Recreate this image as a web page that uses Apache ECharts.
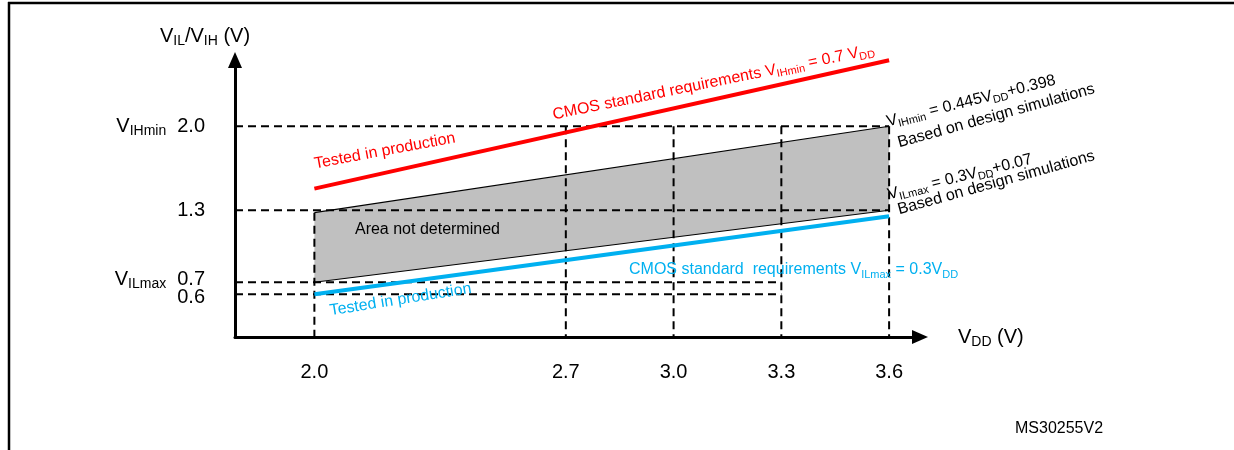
<!DOCTYPE html>
<html><head><meta charset="utf-8">
<script src="https://cdn.jsdelivr.net/npm/echarts@6/dist/echarts.min.js"></script>
<style>html,body{margin:0;padding:0;background:#fff}#c{width:1234px;height:450px}</style>
</head><body><div id="c"></div>
<script>
const FONT = '"Liberation Sans", Arial, Helvetica, sans-serif';
const RED = '#ff0000';
const BLUE = '#00b0f0';

// Axis extents (V)
const X_MIN = 1.779, X_MAX = 3.686;
const Y_MIN = 0.244, Y_MAX = 2.552;

// Tick labels
const xTicks = [2.0, 2.7, 3.0, 3.3, 3.6];
const yTicks = [2.0, 1.3, 0.7, 0.6];
const yTickSub = { '2.0': 'IHmin', '0.7': 'ILmax' };

// Area not determined (grey band)
const areaVdd = [2.0, 3.6];
const areaUpper = [1.28, 2.0];  // VIHmin = 0.445VDD + 0.398
const areaLower = [0.7, 1.3];   // VILmax = 0.3VDD + 0.07

// CMOS standard requirement lines
const redVdd = [2.0, 3.6];
const redV = [1.48, 2.55];      // VIHmin = 0.7 VDD
const blueVdd = [2.0, 3.6];
const blueV = [0.6, 1.25];      // VILmax = 0.3 VDD

// Dashed guide segments [x1, y1, x2, y2]
const guides = [
  [X_MIN, 2.0, 3.6, 2.0],
  [X_MIN, 1.3, 3.6, 1.3],
  [X_MIN, 0.7, 3.3, 0.7],
  [X_MIN, 0.6, 3.3, 0.6],
  [2.0, 1.28, 2.0, Y_MIN],
  [2.7, 2.0, 2.7, Y_MIN],
  [3.0, 2.0, 3.0, Y_MIN],
  [3.3, 2.0, 3.3, Y_MIN],
  [3.6, 2.0, 3.6, Y_MIN]
];

// Annotations: text, colour, anchor (VDD, V), angle (deg)
const notes = [
  { t: 'Tested in production', c: RED, x: 2.0, y: 1.685, a: 10.5 },
  { t: 'CMOS standard requirements V{s|IHmin} = 0.7 V{s|DD}', c: RED, x: 2.664, y: 2.093, a: 11.5 },
  { t: 'Area not determined', c: '#000', x: 2.113, y: 1.135, a: 0 },
  { t: 'Tested in production', c: BLUE, x: 2.043, y: 0.461, a: 9 },
  { t: 'CMOS standard  requirements V{s|ILmax} = 0.3V{s|DD}', c: BLUE, x: 2.876, y: 0.802, a: 0 },
  { t: 'V{s|IHmin} = 0.445V{s|DD}+0.398', c: '#000', x: 3.594, y: 2.035, a: 14 },
  { t: 'Based on design simulations', c: '#000', x: 3.625, y: 1.860, a: 15.5 },
  { t: 'V{s|ILmax} = 0.3V{s|DD}+0.07', c: '#000', x: 3.597, y: 1.427, a: 14 },
  { t: 'Based on design simulations', c: '#000', x: 3.625, y: 1.302, a: 15.5 }
];

const base = { color: '#000', fontFamily: FONT };
const axisRich = {
  v: Object.assign({ fontSize: 20, lineHeight: 24 }, base),
  s: Object.assign({ fontSize: 14, lineHeight: 14, verticalAlign: 'bottom' }, base),
  n: Object.assign({ fontSize: 20, lineHeight: 24, padding: [0, 0, 0, 11] }, base),
  upv: Object.assign({ fontSize: 20, lineHeight: 24, padding: [0, 0, 6, 0] }, base),
  ups: Object.assign({ fontSize: 14, lineHeight: 14, verticalAlign: 'bottom', padding: [0, 0, 3, 0] }, base),
  upn: Object.assign({ fontSize: 20, lineHeight: 24, padding: [0, 0, 6, 11] }, base),
  dn: Object.assign({ fontSize: 20, lineHeight: 24, padding: [6, 0, 0, 0] }, base)
};

function yLabel(v) {
  const k = v.toFixed(1); const s = yTickSub[k];
  if (k === '0.7') return '{upv|V}{ups|' + s + '}{upn|' + k + '}';
  if (k === '0.6') return '{dn|' + k + '}';
  return s ? '{v|V}{s|' + s + '}{n|' + k + '}' : '{v|' + k + '}';
}

const axisLineStyle = { show: true, onZero: false, symbol: ['none', 'triangle'], symbolSize: [14, 16],
  lineStyle: { color: '#000', width: 3 } };

const chart = echarts.init(document.getElementById('c'), null, { renderer: 'canvas' });
chart.setOption({
  animation: false,
  backgroundColor: '#fff',
  grid: { left: 235, top: 60, width: 685, height: 277, containLabel: false },
  xAxis: {
    type: 'value', min: X_MIN, max: X_MAX,
    axisLine: axisLineStyle,
    axisTick: { show: false }, splitLine: { show: false },
    axisLabel: { customValues: xTicks, formatter: v => v.toFixed(1), fontSize: 20,
      color: '#000', fontFamily: FONT, margin: 25, hideOverlap: false,
      showMinLabel: true, showMaxLabel: true },
    name: '{v|V}{s|DD}{v| (V)}', nameLocation: 'end', nameGap: 38,
    nameTextStyle: { rich: axisRich }
  },
  yAxis: [
    {
      type: 'value', min: Y_MIN, max: Y_MAX, position: 'left',
      axisLine: axisLineStyle,
      axisTick: { show: false }, splitLine: { show: false },
      axisLabel: { customValues: yTicks.filter((v, i) => i % 2 === 0), margin: 30,
        hideOverlap: false, showMinLabel: true, showMaxLabel: true, formatter: yLabel, rich: axisRich },
      name: '{v|V}{s|IL}{v|/V}{s|IH}{v| (V)}', nameLocation: 'end', nameGap: 12,
      nameTextStyle: { rich: axisRich, align: 'center', padding: [0, 60, 0, 0] }
    },
    {
      type: 'value', min: Y_MIN, max: Y_MAX, position: 'left', offset: 0,
      axisLine: { show: false }, axisTick: { show: false }, splitLine: { show: false },
      axisLabel: { customValues: yTicks.filter((v, i) => i % 2 === 1), margin: 30,
        hideOverlap: false, showMinLabel: true, showMaxLabel: true, formatter: yLabel, rich: axisRich }
    }
  ],
  graphic: [
    { type: 'line', shape: { x1: 8, y1: 3, x2: 1234, y2: 3 }, style: { stroke: '#000', lineWidth: 2.5 } },
    { type: 'line', shape: { x1: 9, y1: 2, x2: 9, y2: 450 }, style: { stroke: '#000', lineWidth: 2.5 } },
    { type: 'text', left: 1015, top: 421, style: { text: 'MS30255V2', fontSize: 16, fontFamily: FONT, fill: '#000' } }
  ],
  series: [
    {
      type: 'custom', coordinateSystem: 'cartesian2d', z: 1,
      data: areaVdd.map((x, i) => [x, areaLower[i], areaUpper[i]]),
      renderItem: (params, api) => {
        if (params.dataIndex !== 0) return null;
        const lo = areaVdd.map((x, i) => api.coord([x, areaLower[i]]));
        const up = areaVdd.map((x, i) => api.coord([x, areaUpper[i]]));
        return { type: 'group', children: [
          { type: 'polygon', shape: { points: [lo[0], lo[1], up[1], up[0]] }, style: { fill: '#c0c0c0' } },
          { type: 'polyline', shape: { points: lo }, style: { stroke: '#000', lineWidth: 1.2, fill: null } },
          { type: 'polyline', shape: { points: up }, style: { stroke: '#000', lineWidth: 1.2, fill: null } }
        ] };
      }
    },
    {
      type: 'custom', coordinateSystem: 'cartesian2d', z: 2,
      data: guides,
      renderItem: (params, api) => {
        const a = api.coord([api.value(0), api.value(1)]);
        const b = api.coord([api.value(2), api.value(3)]);
        return { type: 'line', shape: { x1: a[0], y1: a[1], x2: b[0], y2: b[1] },
          style: { stroke: '#000', lineWidth: 2, lineDash: [8, 5] } };
      }
    },
    {
      type: 'line', z: 3, showSymbol: false, silent: true,
      data: redVdd.map((x, i) => [x, redV[i]]),
      lineStyle: { color: RED, width: 4 }
    },
    {
      type: 'line', z: 3, showSymbol: false, silent: true,
      data: blueVdd.map((x, i) => [x, blueV[i]]),
      lineStyle: { color: BLUE, width: 4 }
    },
    {
      type: 'custom', coordinateSystem: 'cartesian2d', z: 4,
      data: notes.map(n => [n.x, n.y]),
      renderItem: (params, api) => {
        const n = notes[params.dataIndex];
        const p = api.coord([api.value(0), api.value(1)]);
        return { type: 'text', x: p[0], y: p[1], rotation: n.a * Math.PI / 180,
          style: { text: n.t, fill: n.c, fontSize: 16, fontFamily: FONT, lineHeight: 20,
            align: 'left', verticalAlign: 'middle',
            rich: { s: { fontSize: 11, lineHeight: 10, fill: n.c, fontFamily: FONT, verticalAlign: 'bottom' } } } };
      }
    }
  ]
});
</script>
</body></html>
